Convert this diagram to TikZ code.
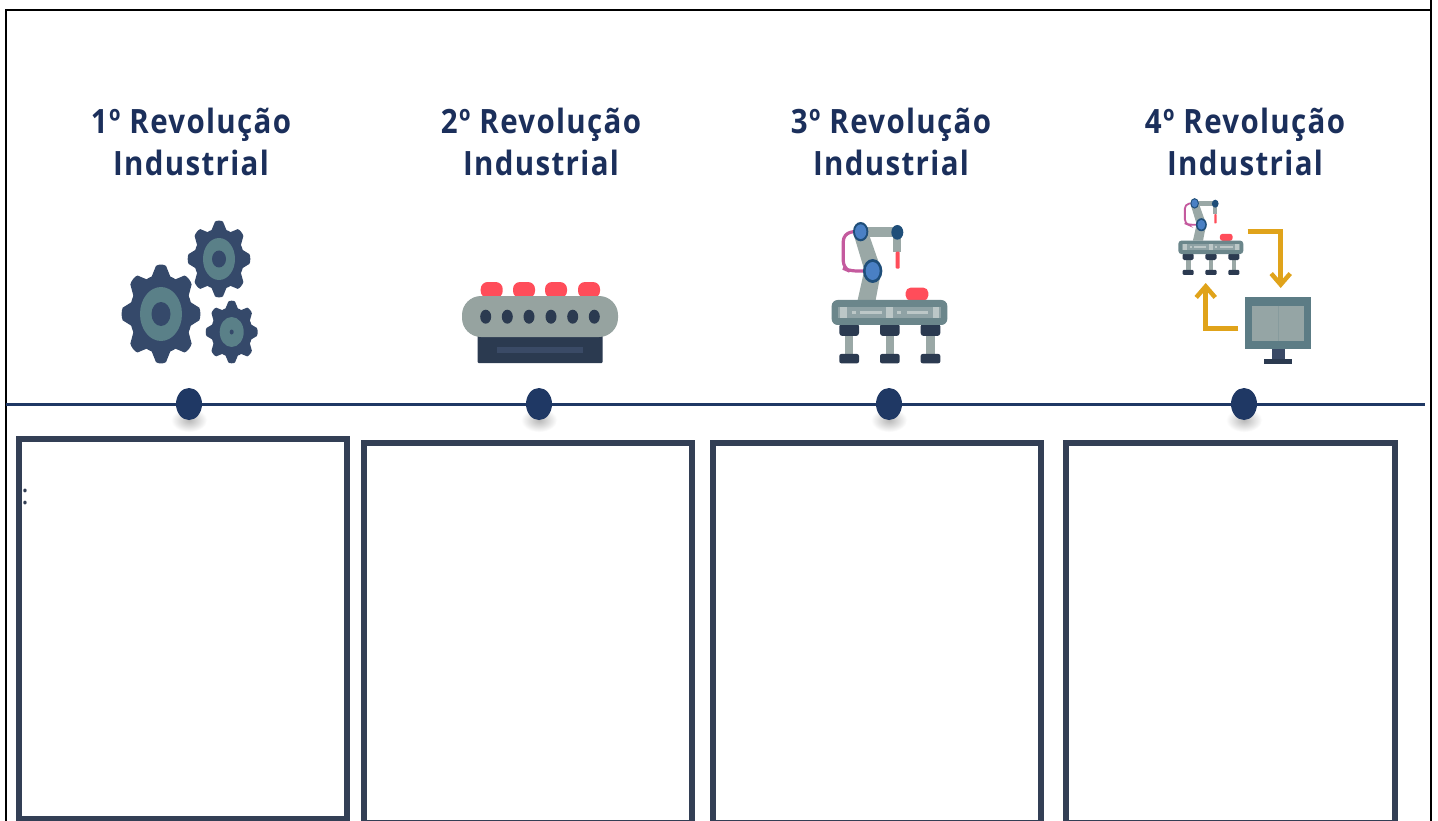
\documentclass[tikz,border=0pt]{standalone}
\usepackage{fontspec}
\setmainfont{Open Sans}
\newfontfamily\titlefont[LetterSpace=4,FakeStretch=.88]{Open Sans}
\usetikzlibrary{shapes.geometric,arrows.meta}
\definecolor{navy}{HTML}{1F3864}
\definecolor{titleblue}{HTML}{1B2F5B}
\definecolor{boxcol}{HTML}{333F55}
\definecolor{gearcol}{HTML}{35496A}
\definecolor{gearteal}{HTML}{5A8088}
\definecolor{pill}{HTML}{FF4D5A}
\definecolor{machgrey}{HTML}{96A3A0}
\definecolor{darkbase}{HTML}{2B3A50}
\definecolor{slotcol}{HTML}{3A4A66}
\definecolor{tablecol}{HTML}{6B868B}
\definecolor{stripcol}{HTML}{8FA2A5}
\definecolor{lightmark}{HTML}{BCC7C7}
\definecolor{armgrey}{HTML}{9AA8A6}
\definecolor{jointdark}{HTML}{1F4E79}
\definecolor{jointblue}{HTML}{4A80C4}
\definecolor{pinkline}{HTML}{C45A9E}
\definecolor{amber}{HTML}{E0A31A}
\definecolor{screenframe}{HTML}{5C7C85}
\definecolor{screenin}{HTML}{95A5A5}
\tikzset{
  frameline/.style={black,line width=2pt},
  timeline/.style={navy,line width=3pt},
  dotnode/.style={ellipse,fill=navy,draw=none,minimum width=26pt,minimum height=32pt,inner sep=0pt},
  titlenode/.style={align=center,text=titleblue,font=\titlefont\bfseries\fontsize{33.5}{42}\selectfont,inner sep=0pt},
  textbox/.style={draw=boxcol,line width=6pt,fill=white},
  amberarrow/.style={amber,line width=5pt,-{Straight Barb[length=11pt,width=19pt,line width=4.5pt]}},
}
% gear: cx cy rx ry tealrx tealry hubrx hubry
\newcommand{\mygear}[8]{%
  \begin{scope}[shift={(#1,#2)},xscale=#3,yscale=#4]
    \fill[gearcol] (0,0) ellipse [x radius=.8,y radius=.8];
    \foreach \a in {0,45,...,315}{
      \fill[gearcol,rotate=\a] (-.27,.7) -- (-.13,.98) .. controls (-.08,1.02) and (.08,1.02) .. (.13,.98) -- (.27,.7) -- cycle;
    }
  \end{scope}
  \fill[gearteal] (#1,#2) ellipse [x radius=#5,y radius=#6];
  \fill[gearcol] (#1,#2) ellipse [x radius=#7,y radius=#8];
}
% robot: shift x, shift y, xscale, yscale, pink line width, corner factor
\newcommand{\myrobot}[6]{%
  \begin{scope}[shift={(#1,#2)},xscale=#3,yscale=#4]
    \draw[pinkline,line width=#5pt,rounded corners=#6*7pt] (130,65) -- (100,72) -- (100,175) -- (118,183) -- (165,183);
    \fill[armgrey] (150,52) rectangle (262,82);
    \fill[armgrey] (130,70) -- (174,65) -- (214,180) -- (197,270) -- (143,270) -- (163,180) -- cycle;
    \fill[armgrey] (250,85) rectangle (274,125);
    \fill[pill,rounded corners=#6*1pt] (257,125) rectangle (269,176);
    \fill[jointdark] (152,65) ellipse [x radius=23,y radius=29];
    \fill[jointblue] (152,65) ellipse [x radius=17,y radius=22];
    \fill[jointdark] (188,183) ellipse [x radius=29,y radius=36];
    \fill[jointblue] (188,183) ellipse [x radius=21,y radius=27];
    \fill[jointdark] (262,67) ellipse [x radius=18,y radius=22];
    \fill[pill,rounded corners=#6*5pt] (287,233) rectangle (355,272);
    \foreach \x in {88,210,332}{
      \fill[armgrey] (\x+17,375) rectangle (\x+42,435);
      \fill[darkbase,rounded corners=#6*3pt] (\x,340) rectangle (\x+59,378);
      \fill[darkbase,rounded corners=#6*2pt] (\x,432) rectangle (\x+59,460);
    }
    \fill[tablecol,rounded corners=#6*6pt] (65,270) rectangle (412,345);
    \fill[stripcol] (85,290) rectangle (392,325);
    \foreach \x in {90,228,368}{\fill[lightmark] (\x,292) rectangle (\x+20,323);}
    \foreach \x/\w in {125/12,150/65,262/12,290/65}{\fill[lightmark] (\x,303) rectangle (\x+\w,312);}
  \end{scope}
}
\begin{document}
\begin{tikzpicture}[x=1pt,y=-1pt]
\useasboundingbox (0,0) rectangle (1438,821);
\fill[white] (0,0) rectangle (1438,821);
% page frame
\coordinate (fTL) at (6,10);
\coordinate (fBL) at (6,821);
\coordinate (fTR) at (1431,10);
\coordinate (fTop) at (1431,0);
\coordinate (fBR) at (1431,821);
\draw[frameline] (fBL) -- (fTL) -- (fTR);
\draw[frameline] (fTop) -- (fBR);
% titles
\node[titlenode] (t1) at (191,142) {1º Revolução\\Industrial};
\node[titlenode] (t2) at (541,142) {2º Revolução\\Industrial};
\node[titlenode] (t3) at (891,142) {3º Revolução\\Industrial};
\node[titlenode] (t4) at (1245,142) {4º Revolução\\Industrial};
% gears
\mygear{161}{314}{39}{49}{21}{27}{9.5}{12}
\mygear{219}{259}{31}{38}{16}{21}{7}{8.5}
\mygear{231.7}{332}{25.7}{31}{12}{15}{2}{2.5}
% conveyor machine
\fill[darkbase,rounded corners=1pt] (477.7,335) rectangle (602.7,363);
\fill[slotcol] (497,347) rectangle (583,353);
\foreach \x in {491.7,524,556,589}{\fill[pill,rounded corners=7pt] (\x-11,282) rectangle (\x+11,298);}
\fill[machgrey,rounded corners=19pt] (462,296) rectangle (618,337);
\foreach \x in {485.7,507.3,529,551,572.7,594.3}{\fill[darkbase] (\x,316.7) ellipse [x radius=5.5,y radius=7];}
% robots
\myrobot{810}{210}{.3333}{.3333}{3.2}{1}
\myrobot{1166.15}{191.55}{.1873}{.1813}{1.8}{.55}
% monitor
\fill[screenframe] (1245,296.7) rectangle (1310.7,349.3);
\fill[screenin] (1251.7,305.7) rectangle (1304,340.7);
\draw[screenin!75!screenframe,line width=.5pt] (1278.3,305.7) -- (1278.3,340.7);
\fill[slotcol] (1271.7,349.3) rectangle (1285,358.5);
\fill[darkbase] (1264,358.5) rectangle (1292.3,363.7);
% amber arrows
\coordinate (a1s) at (1247.5,231.7);
\coordinate (a1m) at (1280.7,231.7);
\coordinate (a1e) at (1280.7,288);
\coordinate (a2s) at (1238.3,328.3);
\coordinate (a2m) at (1205.7,328.3);
\coordinate (a2e) at (1205.7,283);
\draw[amberarrow] (a1s) -- (a1m) -- (a1e);
\draw[amberarrow] (a2s) -- (a2m) -- (a2e);
% shadows below the dots
\foreach \x in {189,539,889,1244}{\shade[inner color=black!28,outer color=white] (\x,420) ellipse [x radius=18,y radius=12];}
% timeline
\coordinate (ls) at (6,404);
\coordinate (le) at (1425,404);
\node[dotnode] (d1) at (189,404) {};
\node[dotnode] (d2) at (539,404) {};
\node[dotnode] (d3) at (889,404) {};
\node[dotnode] (d4) at (1244,404) {};
\draw[timeline] (ls) -- (d1);
\draw[timeline] (d1) -- (d2);
\draw[timeline] (d2) -- (d3);
\draw[timeline] (d3) -- (d4);
\draw[timeline] (d4) -- (le);
% boxes
\node[textbox,minimum width=328pt,minimum height=380pt,inner sep=0pt] (b1) at (183,629) {};
\node[textbox,minimum width=328pt,minimum height=380pt,inner sep=0pt] (b2) at (528,633) {};
\node[textbox,minimum width=328pt,minimum height=380pt,inner sep=0pt] (b3) at (877,633) {};
\node[textbox,minimum width=329pt,minimum height=380pt,inner sep=0pt] (b4) at (1230.5,633) {};
\node[text=boxcol,font=\fontsize{28}{30}\selectfont,inner sep=0pt] (colon) at (25,497) {:};
\end{tikzpicture}
\end{document}
